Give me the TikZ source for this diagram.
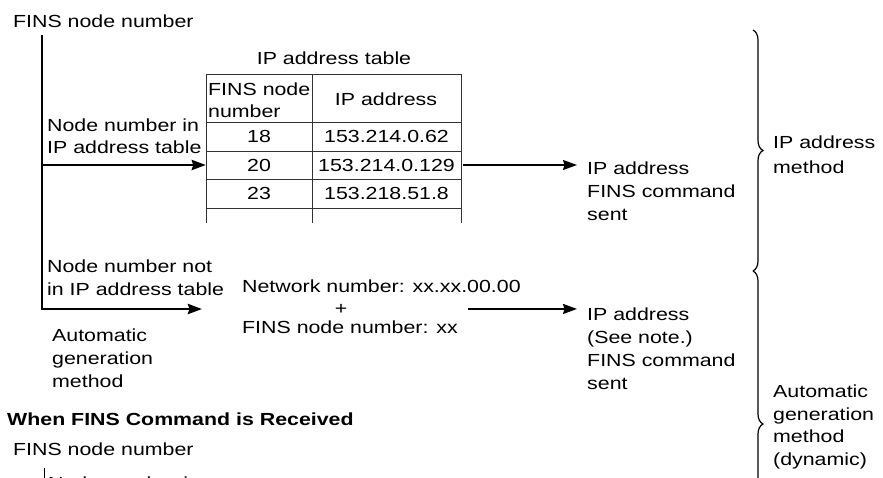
\documentclass[tikz,border=0pt]{standalone}
\usepackage{fontspec}
\setmainfont{Liberation Sans}[FakeStretch=1.22]
\usetikzlibrary{arrows.meta, positioning, decorations.pathreplacing}

\begin{document}
\begin{tikzpicture}[
  x=1pt, y=-1pt,
  every node/.style={inner sep=0pt, font=\fontsize{17.5}{23}\selectfont},
  txt/.style={anchor=base west, align=left},
  numcell/.style={minimum width=106pt, minimum height=28pt},
  ipcell/.style={minimum width=149pt, minimum height=28pt},
  tabline/.style={line width=0.9pt, black!80},
  branch/.style={-{Stealth[length=14pt, width=10pt, inset=1.5pt]}, line width=2.8pt},
  arrow/.style={-{Stealth[length=14pt, width=10pt, inset=1.5pt]}, line width=1.8pt},
  curly/.style={decorate, decoration={brace, amplitude=10pt}, line width=1.2pt}
]
  \useasboundingbox (0,0) rectangle (883,477);
  \clip (0,0) rectangle (883,477);

  % sending side (multi-line nodes sit on their last baseline)
  \node[txt] (fins) at (13,27) {FINS node number};
  \coordinate (stemtop) at (42,35);

  % IP address table
  \node[anchor=base] (tabtitle) at (334,64) {IP address table};
  \draw[tabline] (206,74) -- (206,223) (312,74) -- (312,223) (461,74) -- (461,223);
  \foreach \y in {74,122,151,179,208}
    \draw[tabline] (206,\y) -- (461,\y);
  \node[txt, font=\fontsize{17.5}{22}\selectfont] (hnum) at (208,117) {FINS node\\number};
  \node[anchor=base] (hip) at (386,105) {IP address};
  \foreach \num/\ip/\y in {18/153.214.0.62/136.5, 20/153.214.0.129/165, 23/153.218.51.8/193.5} {
    \node[numcell] (n\num) at (259,\y) {\num};
    \node[ipcell] (ip\num) at (386.5,\y) {\ip};
  }

  \node[txt, font=\fontsize{17.5}{22}\selectfont] (inlbl) at (47,153) {Node number in\\IP address table};
  \node[txt] (out1) at (587,220) {IP address\\FINS command\\sent};

  % automatic generation
  \node[txt] (notlbl) at (47,295) {Node number not\\in IP address table};
  \node[txt] (autolbl) at (52,387) {Automatic\\generation\\method};
  \node[txt] (netnum) at (242,292) {Network number: xx.xx.00.00};
  \node[anchor=base] (plus) at (341,314) {+};
  \node[txt] (finsnum) at (242,333) {FINS node number: xx};
  \node[txt] (out2) at (587,389) {IP address\\(See note.)\\FINS command\\sent};
  \coordinate (nettip) at (202,309);
  \coordinate (fork) at (stemtop |- n20);

  \draw[line width=2.8pt] (stemtop) -- (fork);
  \draw[branch] (fork) -- (n20.west);
  \draw[branch] (fork) |- (nettip);
  \draw[arrow, shorten <=2pt, shorten >=10pt] (ip20.east) -- (ip20 -| out1.west);
  \draw[arrow, shorten <=10pt, shorten >=10pt] (finsnum.east |- plus) -- (plus -| out2.west);

  % methods
  \draw[curly] (753,30) -- (753,271) node[midway] (ipbrace) {};
  \draw[curly] (753,271) -- (753,577) node[midway] (autobrace) {};
  \node[txt, font=\fontsize{17.5}{25}\selectfont] (ipmeth) at (773,173) {IP address\\method};
  \node[txt, font=\fontsize{17.5}{22.5}\selectfont] (autometh) at (773,465) {Automatic\\generation\\method\\(dynamic)};

  % receiving side
  \node[txt, font=\fontsize{17.5}{23}\selectfont\bfseries] (rcvhead) at (7,425) {When FINS Command is Received};
  \node[txt] (fins2) at (13,455) {FINS node number};
  \coordinate (stem2top) at (44,468);
  \node[txt] (inlbl2) at (48,489) {Node number in};
  \draw[line width=1pt] (stem2top) -- (stem2top |- inlbl2.south);
\end{tikzpicture}
\end{document}
